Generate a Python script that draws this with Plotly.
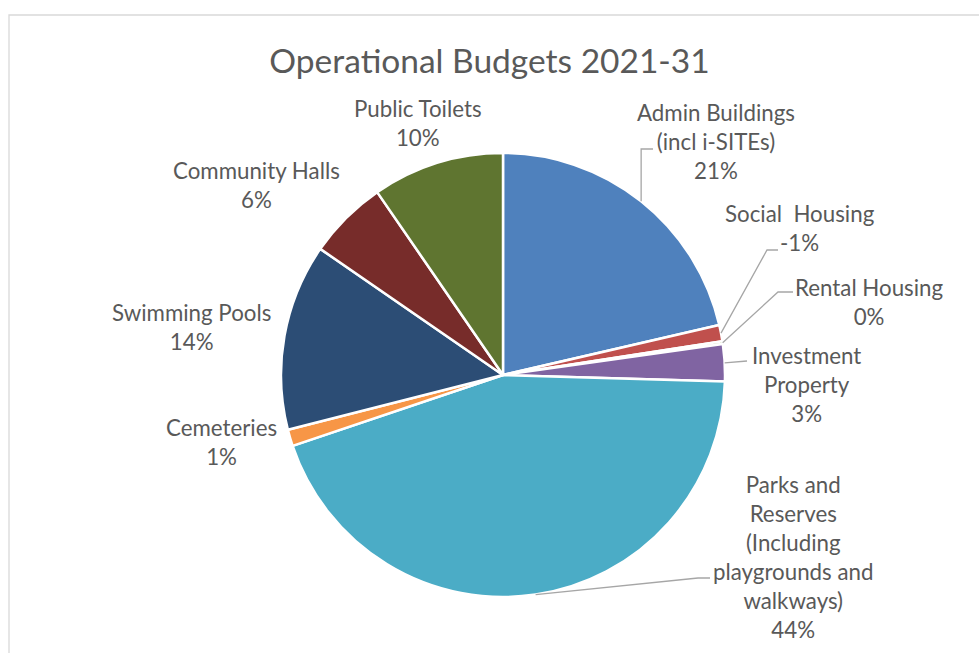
import math
import plotly.graph_objects as go

# Operational budget shares (percent of total), clockwise from 12 o'clock
categories = [
    "Admin Buildings<br>(incl i-SITEs)",
    "Social  Housing",
    "Rental Housing",
    "Investment<br>Property",
    "Parks and<br>Reserves<br>(Including<br>playgrounds and<br>walkways)",
    "Cemeteries",
    "Swimming Pools",
    "Community Halls",
    "Public Toilets",
]
shares = [21.4, -1.2, 0.2, 2.7, 44.4, 1.2, 13.6, 5.8, 9.6]
colors = ["#4F81BD", "#C0504D", "#9BBB59", "#8064A2", "#4BACC6",
          "#F79646", "#2C4D75", "#772C2A", "#5F7530"]

W, H = 979, 653
CX, CY, R = 503, 375, 222          # pie centre and radius in pixels


def px(x):
    return x / W


def py(y):
    return 1 - y / H


sizes = [abs(v) for v in shares]
total = sum(sizes)
pct_text = [f"{v:.0f}%" for v in shares]

fig = go.Figure(go.Pie(
    labels=[c.replace("<br>", " ") for c in categories],
    values=sizes,
    sort=False,
    direction="clockwise",
    rotation=0,
    marker=dict(colors=colors, line=dict(color="white", width=2.5)),
    textinfo="none",
    hoverinfo="label+percent",
    showlegend=False,
    domain=dict(x=[px(CX - R), px(CX + R)], y=[py(CY + R), py(CY - R)]),
))

# label block centres (pixels)
label_pos = [
    (716, 142), (800, 228), (869, 302), (806, 384),
    (793, 557), (221, 442), (191, 327), (256, 185), (418, 123),
]
# leader lines: slice index -> (elbow, end) in pixels
leaders = {
    0: ((None, 149), (653, 149)),
    1: ((767, 250), (778, 250)),
    2: ((778, 292), (793, 292)),
    3: ((747, 361), (747, 361)),
    4: ((698, 578), (710, 578)),
}

annotations = []
for i, (cat, txt) in enumerate(zip(categories, pct_text)):
    x, y = label_pos[i]
    annotations.append(dict(
        x=px(x), y=py(y), xref="paper", yref="paper",
        text=f"{cat}<br>{txt}", showarrow=False,
        xanchor="center", yanchor="middle", align="center",
        font=dict(family="Lato", size=22.3, color="#595959"),
    ))

shapes = []
cum = 0.0
mids = []
for s in sizes:
    mids.append((cum + s / 2) / total * 2 * math.pi)
    cum += s
for i, (elbow, end) in leaders.items():
    a = mids[i]
    sx = CX + R * math.sin(a)
    sy = CY - R * math.cos(a)
    ex = sx if elbow[0] is None else elbow[0]
    ey = elbow[1]
    path = (f"M {px(sx)} {py(sy)} L {px(ex)} {py(ey)} "
            f"L {px(end[0])} {py(end[1])}")
    shapes.append(dict(type="path", path=path, xref="paper", yref="paper",
                       line=dict(color="#A6A6A6", width=1.3)))

# chart area border
shapes.append(dict(type="rect", xref="paper", yref="paper",
                   x0=px(9), y0=py(660), x1=px(990), y1=py(15),
                   line=dict(color="#D9D9D9", width=1.3),
                   fillcolor="rgba(0,0,0,0)", layer="below"))

fig.update_layout(
    width=W, height=H,
    margin=dict(l=0, r=0, t=0, b=0),
    paper_bgcolor="white",
    title=dict(text="Operational Budgets 2021-31",
               x=0.5, xanchor="center", y=py(61), yanchor="middle",
               font=dict(family="Lato", size=33.5, color="#595959")),
    annotations=annotations,
    shapes=shapes,
)

fig.write_html("out.html")
